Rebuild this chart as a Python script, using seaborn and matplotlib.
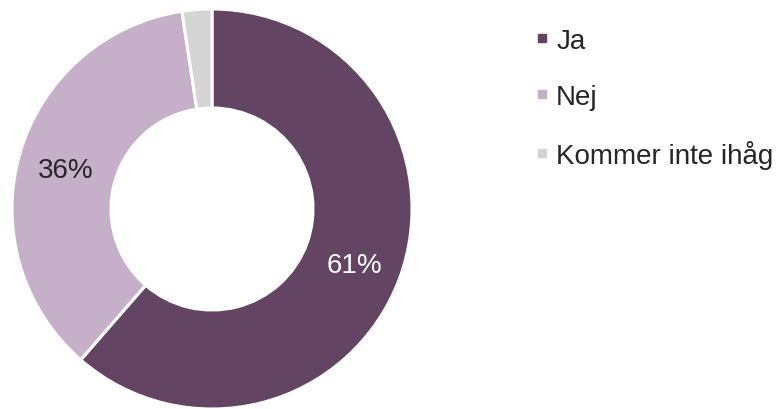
import matplotlib
matplotlib.use("Agg")
import matplotlib.pyplot as plt
from matplotlib.lines import Line2D
import numpy as np
import seaborn as sns

categories = ["Ja", "Nej", "Kommer inte ihåg"]
values = [61.4, 36.2, 2.4]
labels_shown = ["61%", "36%", ""]
colors = ["#634563", "#C6AFC9", "#D4D4D4"]
label_colors = ["white", "#262626", "#262626"]

sns.set_theme(style="white")
plt.rcParams['font.family'] = ['Liberation Sans', 'DejaVu Sans']

fig = plt.figure(figsize=(7.77, 4.10), dpi=100)
ax = fig.add_axes([12/777, (410-210-200)/410, 400/777, 400/410])

wedges, _ = ax.pie(values, colors=colors, startangle=90, counterclock=False,
                   radius=1.0,
                   wedgeprops=dict(width=0.495, edgecolor="white", linewidth=2.2))
theta0 = 90.0
tot = sum(values)
for v, lab, c in zip(values, labels_shown, label_colors):
    mid = theta0 - v / tot * 180
    theta0 -= v / tot * 360
    if lab:
        r = 0.76
        ax.text(r * np.cos(np.radians(mid)), r * np.sin(np.radians(mid)), lab,
                ha="center", va="center_baseline", fontsize=20, color=c)
ax.set_xlim(-1, 1)
ax.set_ylim(-1, 1)
ax.set_aspect("equal")

handles = [Line2D([0], [0], marker="s", linestyle="", markersize=6,
                  markerfacecolor=c, markeredgecolor=c) for c in colors]
leg = fig.legend(handles, categories, loc="upper left",
                 bbox_to_anchor=(534/777, 1 - 29/410), frameon=False,
                 fontsize=20, handlelength=0.6, handletextpad=0.2,
                 labelspacing=1.08, borderaxespad=0, borderpad=0)
for t in leg.get_texts():
    t.set_color("#262626")

fig.savefig("out.png", dpi=100)
